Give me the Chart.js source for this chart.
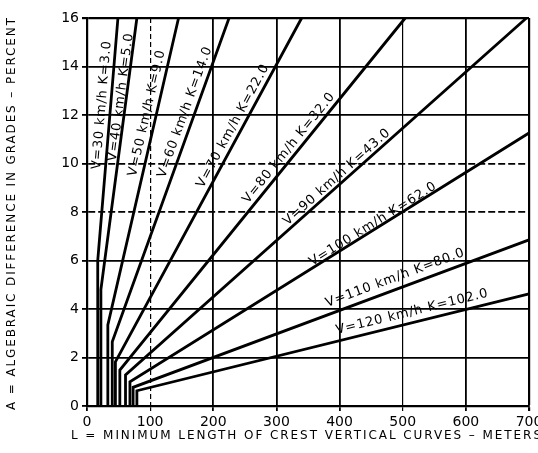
<!DOCTYPE html>
<html>
<head>
<meta charset="utf-8">
<script src="https://cdn.jsdelivr.net/npm/chart.js@4.4.0/dist/chart.umd.min.js"></script>
<style>
  html, body { margin: 0; padding: 0; background: #fff; }
  #wrap { width: 538px; height: 453px; }
</style>
</head>
<body>
<div id="wrap"><canvas id="chart" width="538" height="453"></canvas></div>
<script>
// ----------------------------
// Data
// ----------------------------
const speeds = [30, 40, 50, 60, 70, 80, 90, 100, 110, 120];          // km/h
const kValues = [3, 5, 9, 14, 22, 32, 43, 62, 80, 102];
const minLengths = [17, 22, 33, 40, 45, 52, 61, 68, 73, 79];         // L of vertical part (m)
const breakGrades = [6.0, 4.8, 3.34, 2.65, 1.82, 1.48, 1.28, 1.0, 0.77, 0.63]; // A where line bends
const endLengths = [49, 79, 145, 225, 340, 504, 696, 700, 700, 700]; // L where line leaves chart
const endGrades = [16, 16, 16, 16, 16, 16, 16, 11.26, 6.85, 4.62];   // A where line leaves chart
const xTicks = [0, 100, 200, 300, 400, 500, 600, 700];
const yTicks = [0, 2, 4, 6, 8, 10, 12, 14, 16];

const xTitle = "L = MINIMUM LENGTH OF CREST VERTICAL CURVES \u2013 METERS";
const yTitle = "A = ALGEBRAIC DIFFERENCE IN GRADES \u2013 PERCENT";

// label placement (centre of each label, in axis units)
const labelPosL = [23.8, 53.9, 95.1, 155.3, 231.4, 320, 396, 453, 488, 515];
const labelPosA = [12.41, 12.74, 12.08, 12.12, 11.55, 10.64, 9.44, 7.5, 5.28, 3.88];

const FONT = '"DejaVu Sans", "Liberation Sans", sans-serif';

// -----------------------
// Datasets
// -----------------------
const datasets = speeds.map((v, i) => ({
  label: `V=${v}`,
  data: [
    { x: minLengths[i], y: 0 },
    { x: minLengths[i], y: breakGrades[i] },
    { x: endLengths[i], y: endGrades[i] }
  ],
  showLine: true,
  borderColor: "#000",
  borderWidth: 2.8,
  pointRadius: 0,
  tension: 0,
  clip: 2
}));

// -----------------------
// Plugins
// -----------------------
const lineLabels = {
  id: "lineLabels",
  afterDatasetsDraw(chart) {
    const { ctx, scales: { x, y } } = chart;
    ctx.save();
    ctx.font = `13px ${FONT}`;
    ctx.fillStyle = "#000";
    ctx.textAlign = "center";
    ctx.textBaseline = "middle";
    ctx.letterSpacing = "0.8px";
    speeds.forEach((v, i) => {
      const x0 = x.getPixelForValue(minLengths[i]), y0 = y.getPixelForValue(breakGrades[i]);
      const x1 = x.getPixelForValue(endLengths[i]), y1 = y.getPixelForValue(endGrades[i]);
      const ang = Math.atan2(y1 - y0, x1 - x0);
      ctx.save();
      ctx.translate(x.getPixelForValue(labelPosL[i]), y.getPixelForValue(labelPosA[i]));
      ctx.rotate(ang);
      ctx.fillText(`V=${v} km/h K=${kValues[i].toFixed(1)}`, 0, 0);
      ctx.restore();
    });
    ctx.restore();
  }
};

function spacedText(ctx, text, cx, cy, width) {
  ctx.letterSpacing = "0px";
  const w = ctx.measureText(text).width;
  ctx.letterSpacing = ((width - w) / (text.length - 1)) + "px";
  ctx.textAlign = "left";
  ctx.textBaseline = "middle";
  ctx.fillText(text, cx - width / 2, cy);
}

const axisTitles = {
  id: "axisTitles",
  afterDraw(chart) {
    const { ctx } = chart;
    ctx.save();
    ctx.font = `12px ${FONT}`;
    ctx.fillStyle = "#000";
    spacedText(ctx, xTitle, 306, 436, 470);
    ctx.translate(12, 214);
    ctx.rotate(-Math.PI / 2);
    spacedText(ctx, yTitle, 0, 0, 392);
    ctx.restore();
  }
};

// -----------------------
// Chart
// -----------------------
const thinX = [100, 500];
const dashedY = [8, 10];

new Chart(document.getElementById("chart").getContext("2d"), {
  type: "scatter",
  data: { datasets },
  options: {
    responsive: false,
    animation: false,
    devicePixelRatio: 1,
    layout: { padding: { top: 18, right: 9, bottom: 0, left: 0 } },
    plugins: { legend: { display: false }, tooltip: { enabled: false } },
    scales: {
      x: {
        type: "linear",
        min: 0, max: 700,
        afterBuildTicks: s => { s.ticks = xTicks.map(v => ({ value: v })); },
        afterFit: s => { s.height = 47; s.paddingLeft = 0; s.paddingRight = 0; },
        ticks: { color: "#000", font: { family: FONT, size: 14 }, padding: 3, maxRotation: 0 },
        grid: {
          color: "#000",
          lineWidth: c => (c.tick && c.tick.value === 700 ? 2.2 : (c.tick && thinX.includes(c.tick.value) ? 1.2 : 1.8)),
          tickLength: 5
        },
        border: {
          color: "#000", width: 2.2,
          dash: c => (c.tick && c.tick.value === 100 ? [5, 3] : [])
        }
      },
      y: {
        type: "linear",
        min: 0, max: 16,
        afterBuildTicks: s => { s.ticks = yTicks.map(v => ({ value: v })); },
        afterFit: s => { s.width = 87; s.paddingTop = 0; s.paddingBottom = 0; },
        ticks: { color: "#000", font: { family: FONT, size: 14 }, padding: 3 },
        grid: {
          color: "#000",
          lineWidth: c => (c.tick && c.tick.value === 16 ? 2.2 : 1.8),
          tickLength: 5
        },
        border: {
          color: "#000", width: 2.2,
          dash: c => (c.tick && dashedY.includes(c.tick.value) ? [7, 3] : [])
        }
      }
    }
  },
  plugins: [lineLabels, axisTitles]
});
</script>
</body>
</html>
